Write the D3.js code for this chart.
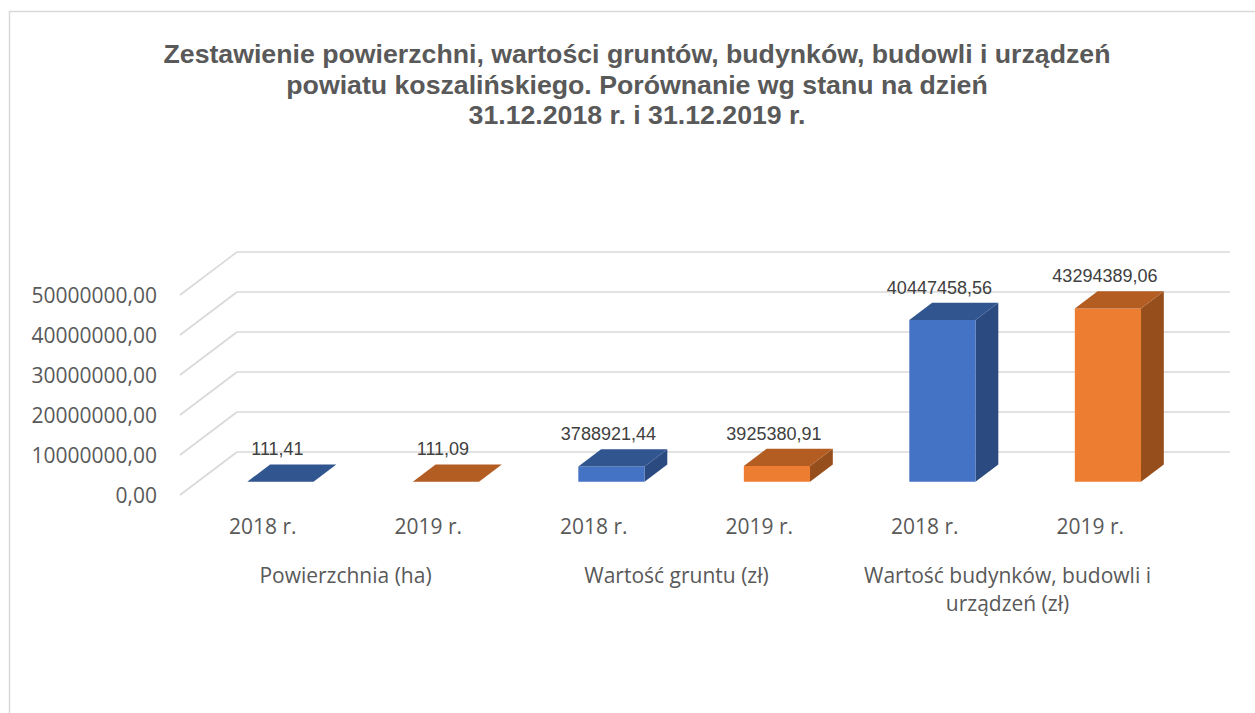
<!DOCTYPE html>
<html>
<head>
<meta charset="utf-8">
<script src="https://cdn.jsdelivr.net/npm/d3@7"></script>
<style>
  body { margin: 0; background: #fff; }
  svg { display: block; }
</style>
</head>
<body>
<div id="chart"></div>
<script>
var titleLines = [
    "Zestawienie powierzchni, wartości gruntów, budynków, budowli i urządzeń",
    "powiatu koszalińskiego. Porównanie wg stanu na dzień",
    "31.12.2018 r. i 31.12.2019 r."
];
var groups = [["Powierzchnia (ha)"], ["Wartość gruntu (zł)"], ["Wartość budynków, budowli i", "urządzeń (zł)"]];
var years = ["2018 r.", "2019 r."];
var values = [111.41, 111.09, 3788921.44, 3925380.91, 40447458.56, 43294389.06];
var valueLabels = ["111,41", "111,09", "3788921,44", "3925380,91", "40447458,56", "43294389,06"];
var yTicks = [0, 10000000, 20000000, 30000000, 40000000, 50000000];

var W = 1255, H = 713;

// 3d look: depth vector of the floor and where the bars sit in it
var depthX = 57, depthY = -43;
var d0 = 0.31, d1 = 0.71;

var colors = {
    "2018 r.": { front: "#4472c4", top: "#30558f", side: "#2b4a80" },
    "2019 r.": { front: "#ed7d31", top: "#b35d22", side: "#964f1c" }
};

var svg = d3.select("#chart")
    .append("svg")
    .attr("width", W)
    .attr("height", H);

// outer frame
svg.append("path")
    .attr("d", "M9.5," + H + "V11.5H" + W)
    .attr("fill", "none")
    .attr("stroke", "#d9d9d9")
    .attr("stroke-width", 1.5);

// title
svg.append("g").selectAll("text")
    .data(titleLines)
    .enter()
    .append("text")
    .attr("x", 637)
    .attr("y", function (d, i) { return 63 + i * 30.5; })
    .attr("text-anchor", "middle")
    .attr("fill", "#595959")
    .style("font", "bold 26.7px 'Liberation Sans', Arial, sans-serif")
    .text(function (d) { return d; });

var bars = values.map(function (v, i) {
    return { key: i, value: v, label: valueLabels[i], year: years[i % 2], group: Math.floor(i / 2) };
});

var x = d3.scaleBand()
    .domain(bars.map(function (d) { return d.key; }))
    .range([180, 1173])
    .paddingInner(0.6)
    .paddingOuter(0.3);

var y = d3.scaleLinear()
    .domain([0, 50000000])
    .range([495, 295]);

function pt(px, v, d) {
    return [px + d * depthX, y(v) + d * depthY];
}

function poly(points) {
    return "M" + points.map(function (p) { return p[0] + "," + p[1]; }).join("L") + "Z";
}

var grid = svg.append("g")
    .attr("stroke", "#d9d9d9")
    .attr("stroke-width", 1.6)
    .attr("fill", "none");

// back wall lines
grid.selectAll(".back")
    .data(yTicks)
    .enter()
    .append("line")
    .attr("x1", function (d) { return pt(x.range()[0], d, 1)[0]; })
    .attr("x2", function (d) { return pt(x.range()[1], d, 1)[0]; })
    .attr("y1", function (d) { return pt(0, d, 1)[1]; })
    .attr("y2", function (d) { return pt(0, d, 1)[1]; });

// side wall lines
grid.selectAll(".side")
    .data(yTicks)
    .enter()
    .append("line")
    .attr("x1", function (d) { return pt(x.range()[0], d, 0)[0]; })
    .attr("x2", function (d) { return pt(x.range()[0], d, 1)[0]; })
    .attr("y1", function (d) { return pt(0, d, 0)[1]; })
    .attr("y2", function (d) { return pt(0, d, 1)[1]; });

// y axis labels
svg.append("g").selectAll("text")
    .data(yTicks)
    .enter()
    .append("text")
    .attr("x", 157)
    .attr("y", function (d) { return y(d); })
    .attr("dy", "0.36em")
    .attr("text-anchor", "end")
    .attr("fill", "#595959")
    .style("font", "21px 'Open Sans', sans-serif")
    .text(function (d) { return d3.format(".2f")(d).replace(".", ","); });

// bars
var barG = svg.append("g").selectAll("g")
    .data(bars)
    .enter()
    .append("g");

barG.append("path")
    .attr("fill", function (d) { return colors[d.year].side; })
    .attr("d", function (d) {
        var x1 = x(d.key) + x.bandwidth();
        return poly([pt(x1, 0, d0), pt(x1, d.value, d0), pt(x1, d.value, d1), pt(x1, 0, d1)]);
    });

barG.append("path")
    .attr("fill", function (d) { return colors[d.year].front; })
    .attr("d", function (d) {
        var x0 = x(d.key), x1 = x0 + x.bandwidth();
        return poly([pt(x0, 0, d0), pt(x1, 0, d0), pt(x1, d.value, d0), pt(x0, d.value, d0)]);
    });

barG.append("path")
    .attr("fill", function (d) { return colors[d.year].top; })
    .attr("d", function (d) {
        var x0 = x(d.key), x1 = x0 + x.bandwidth();
        return poly([pt(x0, d.value, d0), pt(x1, d.value, d0), pt(x1, d.value, d1), pt(x0, d.value, d1)]);
    });

// value labels
barG.append("text")
    .attr("x", function (d) { return pt(x(d.key) + x.bandwidth() / 2, d.value, d0)[0] - 3; })
    .attr("y", function (d) { return pt(0, d.value, d1)[1] - 9; })
    .attr("text-anchor", "middle")
    .attr("fill", "#404040")
    .style("font", "18px 'Liberation Sans', Arial, sans-serif")
    .text(function (d) { return d.label; });

// category labels
svg.append("g").selectAll("text")
    .data(bars)
    .enter()
    .append("text")
    .attr("x", function (d) { return x(d.key) + x.bandwidth() / 2; })
    .attr("y", 534)
    .attr("text-anchor", "middle")
    .attr("fill", "#595959")
    .style("font", "21px 'Open Sans', sans-serif")
    .text(function (d) { return d.year; });

svg.append("g").selectAll("text")
    .data(groups)
    .enter()
    .append("text")
    .attr("x", function (d, i) {
        return (x(i * 2) + x(i * 2 + 1) + x.bandwidth()) / 2;
    })
    .attr("y", 583)
    .attr("text-anchor", "middle")
    .attr("fill", "#595959")
    .style("font", "21px 'Open Sans', sans-serif")
    .selectAll("tspan")
    .data(function (d) { return d; })
    .enter()
    .append("tspan")
    .attr("x", function () { return d3.select(this.parentNode).attr("x"); })
    .attr("dy", function (d, i) { return i ? 28 : 0; })
    .text(function (d) { return d; });
</script>
</body>
</html>
